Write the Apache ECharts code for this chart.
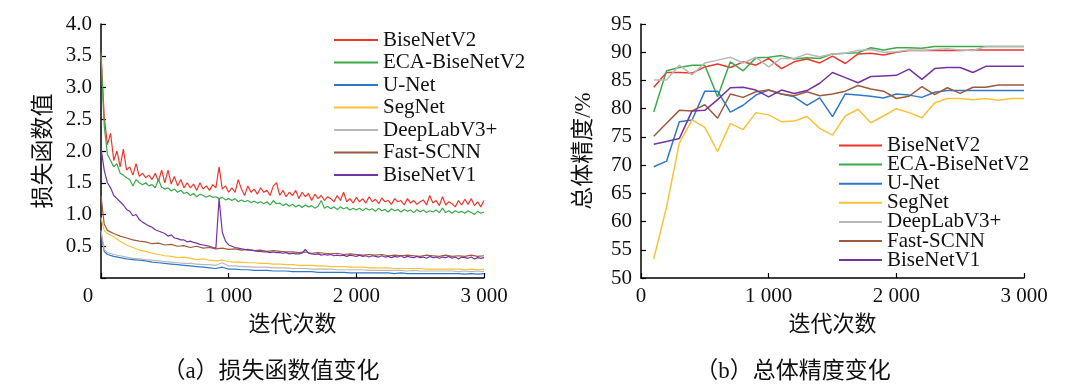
<!DOCTYPE html>
<html><head><meta charset="utf-8">
<script src="https://cdn.jsdelivr.net/npm/echarts/dist/echarts.min.js"></script>
<style>html,body{margin:0;padding:0;background:#fff}#c{width:1088px;height:391px}</style>
</head><body><div id="c"></div>
<script>
const FONT = "'Liberation Serif', 'Noto Sans CJK SC', serif";
const names = ['BiseNetV2','ECA-BiseNetV2','U-Net','SegNet','DeepLabV3+','Fast-SCNN','BiseNetV1'];
const colors = ['#f0362c','#3aaa4a','#2f78c8','#f8c238','#b8b8b8','#9c5b3c','#7434a0'];

function steps(a,b,s){const r=[];for(let v=a;v<=b;v+=s)r.push(v);return r;}
// iteration positions
const xFine = steps(0,3000,25);
const xCoarse = [0,25].concat(steps(50,3000,50));
const xAcc = steps(100,3000,100);

// (a) loss values
const lossBiseNetV2 = [3.55,2.55,2.1,2.28,1.85,2.0,1.75,2.03,1.7,1.75,1.62,1.8,1.6,1.65,1.58,1.62,1.55,1.65,1.52,1.7,1.5,1.7,1.48,1.6,1.45,1.55,1.42,1.5,1.42,1.48,1.38,1.5,1.4,1.45,1.38,1.47,1.42,1.75,1.4,1.45,1.35,1.42,1.35,1.55,1.4,1.3,1.45,1.35,1.4,1.32,1.42,1.35,1.38,1.3,1.45,1.5,1.3,1.38,1.28,1.35,1.3,1.38,1.25,1.35,1.28,1.33,1.22,1.32,1.25,1.3,1.22,1.28,1.25,1.2,1.3,1.22,1.35,1.2,1.25,1.18,1.27,1.2,1.25,1.18,1.28,1.2,1.24,1.17,1.26,1.2,1.22,1.16,1.25,1.2,1.22,1.15,1.25,1.18,1.22,1.16,1.2,1.23,1.15,1.3,1.18,1.22,1.14,1.28,1.15,1.2,1.17,1.12,1.22,1.15,1.24,1.16,1.25,1.14,1.2,1.12,1.22];
const lossECA = [3.5,2.4,1.95,1.85,1.75,1.8,1.65,1.62,1.58,1.55,1.45,1.55,1.5,1.47,1.5,1.45,1.47,1.42,1.55,1.43,1.4,1.42,1.37,1.4,1.35,1.38,1.33,1.35,1.3,1.33,1.28,1.32,1.3,1.27,1.3,1.27,1.28,1.25,1.27,1.23,1.25,1.22,1.25,1.2,1.23,1.2,1.22,1.19,1.21,1.18,1.2,1.17,1.2,1.15,1.22,1.17,1.18,1.14,1.17,1.13,1.16,1.12,1.15,1.11,1.15,1.12,1.14,1.1,1.13,1.22,1.1,1.13,1.09,1.12,1.08,1.12,1.09,1.11,1.07,1.1,1.07,1.1,1.06,1.1,1.07,1.09,1.05,1.1,1.06,1.08,1.04,1.09,1.06,1.08,1.04,1.08,1.05,1.07,1.03,1.08,1.04,1.07,1.03,1.06,1.04,1.07,1.03,1.1,1.03,1.06,1.02,1.06,1.03,1.05,1.02,1.06,1.03,1.0,1.05,1.02,1.04];
const lossBiseNetV1 = [2.05,1.7,1.5,1.42,1.3,1.25,1.2,1.15,1.08,1.05,0.98,1.0,0.92,0.88,0.85,0.82,0.8,0.76,0.74,0.72,0.7,0.66,0.68,0.63,0.62,0.6,0.6,0.57,0.58,0.56,0.55,0.53,0.52,0.51,0.5,0.48,0.47,1.25,0.72,0.58,0.52,0.5,0.48,0.47,0.46,0.45,0.44,0.44,0.43,0.42,0.42,0.41,0.41,0.4,0.41,0.4,0.4,0.39,0.4,0.38,0.39,0.38,0.38,0.39,0.45,0.39,0.38,0.37,0.38,0.36,0.37,0.36,0.37,0.35,0.36,0.35,0.36,0.34,0.36,0.35,0.34,0.36,0.34,0.35,0.33,0.35,0.34,0.33,0.35,0.33,0.34,0.32,0.34,0.33,0.35,0.32,0.34,0.33,0.32,0.34,0.32,0.33,0.31,0.34,0.32,0.33,0.31,0.33,0.32,0.34,0.31,0.33,0.3,0.33,0.32,0.31,0.33,0.3,0.32,0.31,0.32];
const lossFastSCNN = [1.3,0.85,0.75,0.7,0.66,0.63,0.6,0.58,0.57,0.54,0.55,0.52,0.53,0.5,0.51,0.48,0.5,0.47,0.48,0.46,0.47,0.45,0.46,0.44,0.45,0.43,0.44,0.42,0.43,0.42,0.41,0.41,0.4,0.41,0.39,0.4,0.39,0.38,0.39,0.37,0.38,0.37,0.36,0.37,0.36,0.37,0.35,0.36,0.35,0.36,0.35,0.34,0.36,0.35,0.34,0.36,0.34,0.35,0.34,0.36,0.34,0.35];
const lossSegNet = [0.95,0.75,0.7,0.65,0.58,0.52,0.48,0.44,0.42,0.39,0.37,0.35,0.34,0.32,0.33,0.31,0.29,0.3,0.28,0.27,0.28,0.26,0.25,0.25,0.24,0.24,0.23,0.23,0.22,0.22,0.21,0.21,0.2,0.2,0.2,0.19,0.19,0.18,0.18,0.18,0.17,0.17,0.17,0.16,0.16,0.16,0.16,0.15,0.15,0.15,0.15,0.15,0.14,0.14,0.14,0.14,0.14,0.14,0.13,0.14,0.13,0.14];
const lossDeepLab = [0.75,0.45,0.4,0.37,0.35,0.33,0.31,0.3,0.29,0.28,0.27,0.26,0.25,0.24,0.23,0.23,0.22,0.21,0.21,0.2,0.24,0.19,0.19,0.18,0.18,0.17,0.17,0.17,0.16,0.16,0.16,0.15,0.15,0.15,0.14,0.14,0.14,0.14,0.13,0.13,0.13,0.13,0.13,0.12,0.12,0.12,0.12,0.12,0.12,0.11,0.12,0.11,0.11,0.11,0.11,0.11,0.11,0.1,0.11,0.1,0.11,0.1];
const lossUNet = [0.7,0.42,0.37,0.34,0.32,0.3,0.29,0.28,0.27,0.25,0.24,0.23,0.22,0.21,0.2,0.19,0.18,0.17,0.16,0.15,0.17,0.14,0.14,0.13,0.13,0.12,0.12,0.12,0.11,0.11,0.11,0.1,0.1,0.1,0.1,0.09,0.09,0.09,0.09,0.09,0.08,0.08,0.08,0.08,0.08,0.08,0.08,0.07,0.08,0.07,0.07,0.07,0.07,0.07,0.07,0.07,0.07,0.07,0.06,0.07,0.06,0.07];

// (b) overall accuracy (%)
const accBiseNetV2 = [83.8,86.4,86.4,86.3,87.4,87.9,87.3,88.3,87.7,88.9,87.1,88.3,88.8,88.1,89.3,88.0,89.7,89.8,89.5,90.0,90.3,90.3,90.3,90.3,90.3,90.4,90.4,90.4,90.4,90.4];
const accECA = [79.4,86.7,87.3,87.7,87.7,82.1,88.3,86.7,89.0,89.1,89.4,88.8,89.0,88.9,89.7,89.8,89.9,90.8,90.4,90.8,90.8,90.7,91.0,91.0,91.0,91.0,91.0,91.0,91.0,91.0];
const accUNet = [69.7,70.7,77.7,78.0,83.1,83.1,79.4,80.6,82.4,83.3,82.6,82.1,80.6,81.9,78.6,82.6,82.4,82.2,81.9,82.6,82.4,82.0,82.9,83.2,83.2,83.2,83.2,83.2,83.2,83.2];
const accSegNet = [53.4,62.6,73.9,78.0,76.7,72.4,77.4,76.3,79.3,78.9,77.7,77.8,78.6,76.5,75.3,78.7,79.9,77.5,78.7,80.0,79.3,78.4,81.0,81.8,81.8,81.6,81.8,81.5,81.8,81.8];
const accDeepLab = [85.1,85.1,87.7,86.0,88.1,88.6,89.1,88.1,89.1,87.4,88.9,88.9,89.7,89.2,89.7,89.8,90.3,90.5,90.0,90.1,90.4,90.3,90.5,90.6,90.4,90.3,91.0,91.0,91.0,91.0];
const accFastSCNN = [75.1,77.4,79.7,79.6,80.7,78.3,82.6,82.0,83.0,83.3,82.6,82.3,83.0,82.3,82.6,83.1,84.1,83.5,83.1,81.8,82.2,83.9,82.5,83.7,82.7,83.8,83.8,84.2,84.2,84.2];
const accBiseNetV1 = [73.7,74.2,74.7,79.6,79.7,81.6,83.7,83.8,83.3,82.1,83.3,82.7,83.2,84.5,86.4,85.5,84.6,85.7,85.8,85.9,87.0,85.2,87.1,87.3,87.3,86.4,87.5,87.5,87.5,87.5];

const lossSets = [[xFine,lossBiseNetV2],[xFine,lossECA],[xCoarse,lossUNet],[xCoarse,lossSegNet],[xCoarse,lossDeepLab],[xCoarse,lossFastSCNN],[xFine,lossBiseNetV1]];
const accSets = [accBiseNetV2,accECA,accUNet,accSegNet,accDeepLab,accFastSCNN,accBiseNetV1];

const pair = (xs,ys) => ys.map((y,i)=>[xs[i],y]);
const series = [];
names.forEach((n,i)=>{
  series.push({name:n,type:'line',xAxisIndex:0,yAxisIndex:0,symbol:'none',
    data:pair(lossSets[i][0],lossSets[i][1]),lineStyle:{width:1.2,color:colors[i]},itemStyle:{color:colors[i]},z:2+(i===6?1:0)});
});
names.forEach((n,i)=>{
  series.push({name:n,type:'line',xAxisIndex:1,yAxisIndex:1,symbol:'none',
    data:pair(xAcc,accSets[i]),lineStyle:{width:1.5,color:colors[i]},itemStyle:{color:colors[i]}});
});

const xFmt = v => v===0 ? '0' : (v/1000)+' 000';
function xAxis(gi, shiftZero){
  return {gridIndex:gi,type:'value',min:0,max:3000,interval:1000,
    axisLine:{show:true,lineStyle:{color:'#000',width:1.5}},
    axisTick:{show:true,inside:true,length:5,lineStyle:{color:'#000',width:1.2}},
    splitLine:{show:false},
    axisLabel:{fontSize:21,color:'#111',fontFamily:FONT,margin:8,
      formatter: v => (shiftZero && v===0) ? '{z|0}' : xFmt(v),
      rich:{z:{fontSize:21,color:'#111',fontFamily:FONT,padding:[0,26,0,0]}}},
    name:'迭代次数',nameLocation:'middle',nameGap:36,
    nameTextStyle:{fontSize:22,color:'#111',fontFamily:FONT}};
}
function yAxis(gi,min,max,step,fmt,name){
  return {gridIndex:gi,type:'value',min:min,max:max,interval:step,
    axisLine:{show:true,lineStyle:{color:'#000',width:1.5}},
    axisTick:{show:true,inside:true,length:5,lineStyle:{color:'#000',width:1.2}},
    splitLine:{show:false},
    axisLabel:{fontSize:21,color:'#111',fontFamily:FONT,margin:9,formatter:fmt},
    name:name,nameLocation:'middle',nameGap:46,
    nameTextStyle:{fontSize:23,color:'#111',fontFamily:FONT}};
}

const chart = echarts.init(document.getElementById('c'));
chart.setOption({
  backgroundColor:'#fff',
  animation:false,
  grid:[{left:101,top:24,width:383,height:254},{left:641,top:24,width:383,height:254}],
  xAxis:[xAxis(0,true),xAxis(1,false)],
  yAxis:[
    yAxis(0,0,4,0.5,v=>v===0?'':v.toFixed(1),'损失函数值'),
    yAxis(1,50,95,5,v=>String(v),'总体精度/%')
  ],
  legend:[
    {data:names,orient:'vertical',left:329,top:24,itemWidth:44,itemHeight:14,itemGap:0.5,
      icon:'path://M0,6 L44,6 L44,8 L0,8 Z',
      textStyle:{fontSize:21,lineHeight:22,color:'#111',fontFamily:FONT}},
    {data:names,orient:'vertical',left:834,top:130,itemWidth:43,itemHeight:14,itemGap:-1.9,
      icon:'path://M0,6 L44,6 L44,8 L0,8 Z',
      textStyle:{fontSize:21,lineHeight:18,color:'#111',fontFamily:FONT}}
  ],
  graphic:[
    {type:'text',style:{text:'（a）损失函数值变化',x:271,y:372,textAlign:'center',textVerticalAlign:'middle',fontSize:23,fontFamily:FONT,fill:'#111'}},
    {type:'text',style:{text:'（b）总体精度变化',x:793,y:372,textAlign:'center',textVerticalAlign:'middle',fontSize:23,fontFamily:FONT,fill:'#111'}}
  ],
  series:series
});
</script>
</body></html>
